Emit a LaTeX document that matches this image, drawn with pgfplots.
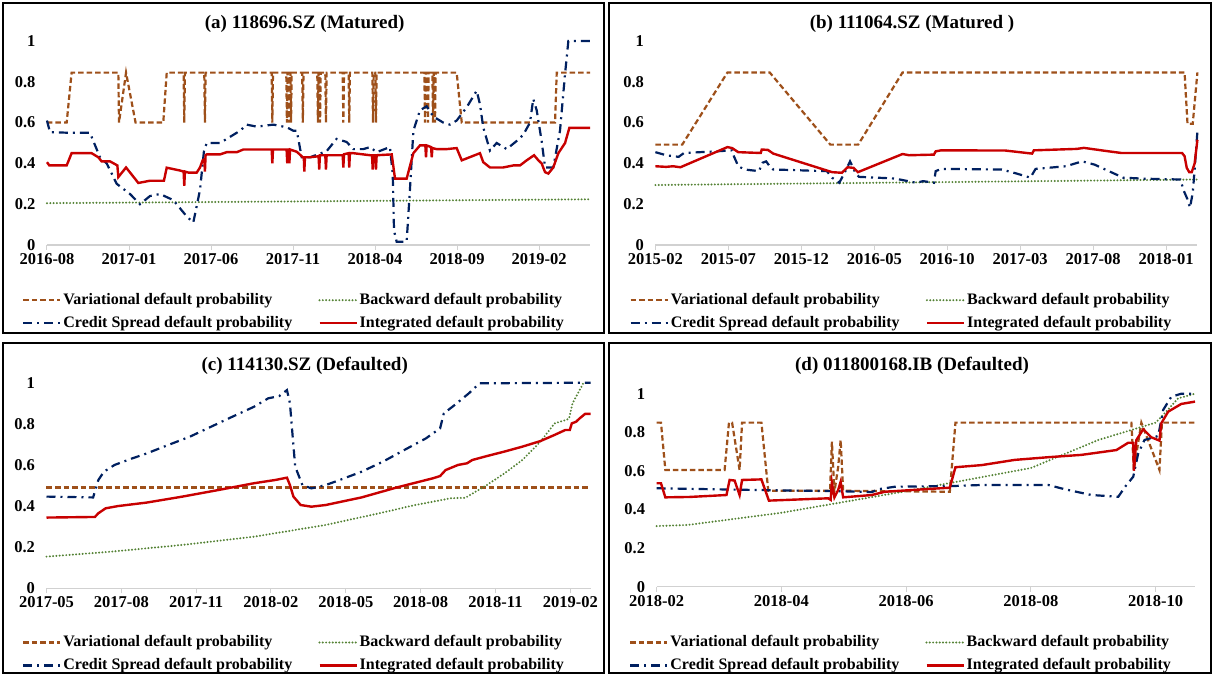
\documentclass[border=0pt]{standalone}
\usepackage{pgfplots}
\pgfplotsset{compat=1.18}
\usepackage{fontspec}
\setmainfont{Liberation Serif}
\definecolor{vbrown}{RGB}{158,80,26}
\definecolor{bgreen}{RGB}{84,130,53}
\definecolor{cblue}{RGB}{0,32,96}
\definecolor{ired}{RGB}{200,0,0}
\newcommand{\tfont}{\fontsize{19}{22}\selectfont\bfseries}
\pgfplotsset{
  panel/.style={
    scale only axis, clip=false,
    axis lines*=left,
    y axis line style={draw=none},
    x axis line style={draw=black!18, line width=1.2pt},
    xtick style={draw=black!18, line width=1pt},
    ytick style={draw=none},
    tick align=outside, major tick length=5pt,
    ymin=0, ymax=1,
    ytick={0,0.2,0.4,0.6,0.8,1},
    yticklabels={0,0.2,0.4,0.6,0.8,1},
    ticklabel style={font=\fontsize{16.5}{18}\selectfont\bfseries},
    yticklabel style={xshift=-3pt},
    legend columns=2,
    legend cell align=left,
    legend style={draw=none, fill=none, at={(axis description cs:0,0)}, anchor=north west,
      inner sep=0pt, font=\fontsize{16}{18}\selectfont\bfseries, row sep=5pt,
      nodes={inner xsep=2pt, inner ysep=1pt, text height=12pt, text depth=4pt},
      /tikz/every even column/.append style={column sep=24pt}},
    legend image code/.code={\draw[##1] (0pt,0pt) -- (37pt,0pt);},
  },
  vst/.style={vbrown, line width=2.2pt, dash pattern=on 5.5pt off 3pt},
  bst/.style={bgreen, line width=2.2pt, line cap=round, dash pattern=on 0pt off 3.3pt},
  cst/.style={cblue, line width=2.2pt, dash pattern=on 9pt off 5pt on 2pt off 5pt},
  ist/.style={ired, line width=2.4pt},
}
\begin{document}
\begin{tikzpicture}[x=1pt,y=1pt]
\useasboundingbox (0,0) rectangle (1214,676);
\draw[line width=1.6pt] (3,343) rectangle (604,673);
\draw[line width=1.6pt] (609,343) rectangle (1211,673);
\draw[line width=1.6pt] (3,3) rectangle (604,333);
\draw[line width=1.6pt] (609,3) rectangle (1211,333);
\node[font=\tfont] at (304.7,652) {(a) 118696.SZ (Matured)};
\node[font=\tfont] at (912,652) {(b) 111064.SZ (Matured )};
\node[font=\tfont] at (304.7,309.7) {(c) 114130.SZ (Defaulted)};
\node[font=\tfont] at (912,309.7) {(d) 011800168.IB (Defaulted)};

% ---------------- (a)
\begin{axis}[panel, at={(47pt,431pt)}, anchor=south west, width=543pt, height=204pt,
  xmin=0, xmax=33.11, xtick={0,5,10,15,20,25,30},
  xticklabels={2016-08,2017-01,2017-06,2017-11,2018-04,2018-09,2019-02},
  legend style={xshift=-25pt, yshift=-46pt}]
\addplot[vst] coordinates {(0,0.6) (1.2,0.6) (1.5,0.845) (4.35,0.845) (4.39,0.6) (4.82,0.845) (5.40,0.6) (7.09,0.6) (7.3,0.845)
 (8.33,0.845) (8.37,0.6) (8.41,0.845) (9.59,0.845) (9.63,0.6) (9.67,0.845) (13.70,0.845) (13.74,0.6) (13.78,0.845)
 (14.59,0.845) (14.63,0.6) (14.67,0.845) (14.72,0.845) (14.76,0.6) (14.80,0.845) (14.84,0.845) (14.88,0.6) (14.92,0.845)
 (15.56,0.845) (15.6,0.6) (15.64,0.845) (16.48,0.845) (16.52,0.6) (16.56,0.845) (16.61,0.845) (16.65,0.6) (16.69,0.845)
 (16.97,0.845) (17.01,0.6) (17.05,0.845) (18.03,0.845) (18.07,0.6) (18.11,0.845) (18.39,0.845) (18.43,0.6) (18.47,0.845)
 (19.84,0.845) (19.88,0.6) (19.92,0.845) (20.02,0.845) (20.06,0.6) (20.10,0.845) (23.01,0.845) (23.05,0.6) (23.09,0.845)
 (23.19,0.845) (23.23,0.6) (23.27,0.845) (23.50,0.845) (23.54,0.6) (23.58,0.845) (23.62,0.845) (23.66,0.6) (23.70,0.845)
 (24.98,0.845) (25.29,0.6) (30.98,0.6) (31.08,0.845) (33.11,0.845)};
\addlegendentry{Variational default probability}
\addplot[bst] coordinates {(0,0.205) (16,0.214) (33.11,0.224)};
\addlegendentry{Backward default probability}
\addplot[cst] coordinates {(0,0.61) (0.18,0.553) (1.40,0.55) (2.62,0.55) (3.23,0.43) (3.64,0.40) (4.25,0.30) (5.06,0.25) (5.67,0.20) (6.28,0.24) (6.89,0.25) (7.70,0.22) (8.52,0.14) (8.92,0.11) (9.33,0.27) (9.57,0.46) (9.74,0.50) (10.55,0.50) (11.16,0.53) (11.77,0.56) (12.18,0.59) (12.79,0.58) (13.80,0.59) (14.62,0.577) (15.02,0.56) (15.23,0.56) (15.53,0.43) (16.04,0.43) (17.05,0.46) (17.66,0.52) (18.27,0.505) (18.68,0.47) (19.29,0.47) (19.70,0.48) (20.10,0.455) (20.91,0.48) (21.08,0.35) (21.16,0.07) (21.32,0.016) (21.93,0.016) (22.13,0.27) (22.34,0.56) (22.74,0.66) (23.15,0.68) (23.55,0.63) (24.16,0.60) (24.57,0.59) (24.98,0.61) (25.59,0.675) (26.20,0.756) (26.40,0.69) (26.60,0.577) (27.01,0.463) (27.42,0.50) (28.03,0.47) (28.64,0.51) (29.04,0.54) (29.45,0.60) (29.65,0.716) (29.86,0.66) (30.16,0.51) (30.37,0.38) (30.87,0.38) (31.28,0.56) (31.59,0.84) (31.79,1.0) (33.11,1.0)};
\addlegendentry{Credit Spread default probability}
\addplot[ist] coordinates {(0,0.406) (0.14,0.39) (1.20,0.39) (1.50,0.45) (2.72,0.45) (3.13,0.43) (3.33,0.41) (3.84,0.41) (4.29,0.39) (4.35,0.333) (4.82,0.38) (5.57,0.304) (6.28,0.315) (7.13,0.315) (7.30,0.379) (8.11,0.365) (8.33,0.36) (8.37,0.29) (8.41,0.36) (8.62,0.355) (9.13,0.355) (9.33,0.38) (9.49,0.415) (9.59,0.42) (9.63,0.36) (9.67,0.44) (9.74,0.444) (10.55,0.444) (10.96,0.455) (11.57,0.455) (11.97,0.468) (13.70,0.468) (13.74,0.40) (13.78,0.468) (14.61,0.468) (14.65,0.40) (14.69,0.468) (14.74,0.468) (14.78,0.40) (14.82,0.468) (15.23,0.457) (15.60,0.43) (15.66,0.43) (15.69,0.36) (15.73,0.43) (16.04,0.43) (16.56,0.435) (16.60,0.37) (16.64,0.44) (16.97,0.44) (17.01,0.37) (17.05,0.44) (18.03,0.44) (18.07,0.38) (18.11,0.445) (18.39,0.45) (18.43,0.38) (18.47,0.45) (18.68,0.45) (19.70,0.44) (19.82,0.44) (19.86,0.37) (19.90,0.44) (20.02,0.44) (20.06,0.37) (20.10,0.44) (21.02,0.444) (21.22,0.325) (21.93,0.325) (22.34,0.45) (22.74,0.488) (23.07,0.488) (23.11,0.43) (23.15,0.488) (23.42,0.48) (23.46,0.43) (23.50,0.475) (23.76,0.47) (24.37,0.47) (24.98,0.475) (25.29,0.415) (26.40,0.45) (26.60,0.406) (27.01,0.38) (27.42,0.38) (27.82,0.38) (28.43,0.39) (28.84,0.39) (29.25,0.415) (29.70,0.44) (29.96,0.415) (30.16,0.40) (30.37,0.357) (30.57,0.35) (30.87,0.38) (31.18,0.45) (31.59,0.50) (31.85,0.574) (33.11,0.574)};
\addlegendentry{Integrated default probability}
\end{axis}

% ---------------- (b)
\begin{axis}[panel, at={(655.4pt,431pt)}, anchor=south west, width=542pt, height=204pt,
  xmin=0, xmax=37.15, xtick={0,5,10,15,20,25,30,35},
  xticklabels={2015-02,2015-07,2015-12,2016-05,2016-10,2017-03,2017-08,2018-01},
  legend style={xshift=-26pt, yshift=-46pt}]
\addplot[vst] coordinates {(0,0.492) (1.84,0.492) (4.94,0.846) (7.83,0.846) (11.99,0.492) (13.90,0.492) (16.94,0.846) (36.27,0.846) (36.47,0.594) (36.83,0.594) (37.15,0.846)};
\addlegendentry{Variational default probability}
\addplot[bst] coordinates {(0,0.294) (18,0.307) (37.15,0.321)};
\addlegendentry{Backward default probability}
\addplot[cst] coordinates {(0,0.455) (0.73,0.44) (1.59,0.432) (1.96,0.451) (4.16,0.459) (5.26,0.464) (5.38,0.435) (5.68,0.386) (6.12,0.37) (7.10,0.362) (7.34,0.403) (7.59,0.41) (7.83,0.386) (8.08,0.37) (9.54,0.367) (11.50,0.362) (11.75,0.362) (12.11,0.33) (12.60,0.305) (12.97,0.354) (13.34,0.41) (13.71,0.354) (13.95,0.334) (16.40,0.326) (17.87,0.305) (18.36,0.313) (19.09,0.305) (19.21,0.362) (19.58,0.373) (23.74,0.37) (24.72,0.351) (25.70,0.33) (26.06,0.373) (28.14,0.386) (29.25,0.41) (30.10,0.394) (31.08,0.362) (32.06,0.33) (33.53,0.325) (35.98,0.321) (36.22,0.265) (36.47,0.224) (36.64,0.183) (36.83,0.256) (36.96,0.37) (37.15,0.557)};
\addlegendentry{Credit Spread default probability}
\addplot[ist] coordinates {(0,0.386) (0.73,0.383) (1.22,0.386) (1.71,0.381) (4.94,0.48) (5.26,0.475) (5.68,0.455) (7.22,0.451) (7.29,0.468) (7.71,0.466) (8.08,0.448) (12.11,0.357) (12.78,0.354) (13.17,0.381) (13.58,0.378) (13.88,0.357) (16.94,0.446) (17.38,0.44) (19.09,0.443) (19.21,0.459) (19.58,0.464) (23.98,0.463) (25.82,0.448) (25.94,0.464) (28.88,0.471) (29.37,0.476) (31.08,0.459) (31.94,0.451) (36.10,0.451) (36.27,0.435) (36.42,0.378) (36.59,0.357) (36.76,0.357) (36.96,0.40) (37.15,0.516)};
\addlegendentry{Integrated default probability}
\end{axis}

% ---------------- (c)
\begin{axis}[panel, at={(46.5pt,87.7pt)}, anchor=south west, width=544pt, height=205.6pt,
  xmin=0, xmax=21.81, xtick={0,3,6,9,12,15,18,21},
  xticklabels={2017-05,2017-08,2017-11,2018-02,2018-05,2018-08,2018-11,2019-02},
  legend style={xshift=-24.5pt, yshift=-45pt}]
\addplot[vst] coordinates {(0,0.49) (21.81,0.49)};
\addlegendentry{Variational default probability}
\addplot[bst] coordinates {(0,0.154) (2.58,0.178) (5.45,0.211) (8.32,0.251) (11.19,0.308) (13.34,0.365) (14.78,0.405) (16.21,0.438) (16.79,0.44) (17.65,0.502) (18.36,0.559) (19.08,0.624) (19.80,0.713) (20.37,0.802) (20.80,0.818) (20.95,0.825) (21.09,0.90) (21.52,0.997)};
\addlegendentry{Backward default probability}
\addplot[cst] coordinates {(0,0.446) (1.87,0.442) (2.08,0.527) (2.30,0.567) (2.73,0.60) (3.44,0.632) (4.02,0.656) (4.88,0.697) (5.74,0.737) (6.60,0.786) (7.46,0.835) (8.32,0.883) (8.89,0.924) (9.33,0.935) (9.64,0.964) (9.76,0.90) (9.87,0.737) (9.97,0.592) (10.26,0.502) (10.62,0.486) (11.19,0.502) (11.76,0.527) (12.63,0.567) (13.49,0.616) (14.35,0.673) (15.21,0.729) (15.78,0.778) (15.93,0.851) (16.36,0.891) (16.93,0.948) (17.36,0.997) (21.81,1.0)};
\addlegendentry{Credit Spread default probability}
\addplot[ist] coordinates {(0,0.344) (1.94,0.347) (2.08,0.365) (2.37,0.389) (2.87,0.40) (4.02,0.417) (5.45,0.446) (6.89,0.478) (8.32,0.511) (9.18,0.527) (9.64,0.538) (9.76,0.502) (9.90,0.446) (10.19,0.405) (10.62,0.397) (11.19,0.405) (12.63,0.442) (14.06,0.491) (15.49,0.535) (15.78,0.546) (16.00,0.575) (16.50,0.60) (16.86,0.608) (17.07,0.624) (17.65,0.643) (18.36,0.665) (19.08,0.689) (19.80,0.716) (20.37,0.746) (20.80,0.77) (20.98,0.77) (21.06,0.802) (21.23,0.81) (21.38,0.827) (21.59,0.848) (21.81,0.848)};
\addlegendentry{Integrated default probability}
\end{axis}

% ---------------- (d)
\begin{axis}[panel, at={(656.6pt,89.3pt)}, anchor=south west, width=538.4pt, height=193pt,
  xmin=0, xmax=8.63, xtick={0,2,4,6,8},
  xticklabels={2018-02,2018-04,2018-06,2018-08,2018-10},
  legend style={xshift=-27.6pt, yshift=-46.6pt}]
\addplot[vst] coordinates {(0,0.85) (0.07,0.85) (0.14,0.605) (1.09,0.605) (1.16,0.85) (1.21,0.85) (1.33,0.605) (1.37,0.85) (1.68,0.85) (1.79,0.497) (2.78,0.497) (2.81,0.751) (2.85,0.49) (2.91,0.62) (2.95,0.76) (2.99,0.497) (4.70,0.492) (4.79,0.85) (7.61,0.85) (7.65,0.605) (7.77,0.85) (8.06,0.605) (8.10,0.85) (8.63,0.85)};
\addlegendentry{Variational default probability}
\addplot[bst] coordinates {(0,0.314) (0.5,0.32) (2,0.383) (4,0.495) (6,0.615) (7.08,0.76) (7.61,0.812) (8.0,0.85) (8.09,0.88) (8.36,0.976) (8.63,1.0)};
\addlegendentry{Backward default probability}
\addplot[cst] coordinates {(0,0.51) (1.42,0.502) (3.02,0.494) (3.45,0.49) (3.55,0.505) (3.82,0.518) (4.30,0.52) (4.70,0.521) (5.21,0.527) (6.28,0.527) (6.54,0.505) (6.97,0.475) (7.40,0.466) (7.51,0.518) (7.64,0.57) (7.72,0.691) (7.82,0.76) (8.04,0.781) (8.12,0.916) (8.25,0.984) (8.41,1.0) (8.63,1.0)};
\addlegendentry{Credit Spread default probability}
\addplot[ist] coordinates {(0,0.536) (0.07,0.536) (0.14,0.463) (0.53,0.465) (1.12,0.475) (1.17,0.553) (1.25,0.55) (1.33,0.475) (1.37,0.553) (1.68,0.556) (1.80,0.446) (2.75,0.458) (2.79,0.45) (2.81,0.539) (2.85,0.463) (2.91,0.501) (2.95,0.544) (2.99,0.463) (3.45,0.475) (3.66,0.492) (4.30,0.505) (4.70,0.513) (4.79,0.619) (5.21,0.63) (5.74,0.657) (6.28,0.671) (6.81,0.683) (7.37,0.708) (7.56,0.746) (7.64,0.746) (7.65,0.601) (7.69,0.76) (7.80,0.816) (7.93,0.774) (8.06,0.757) (8.09,0.847) (8.20,0.907) (8.41,0.947) (8.63,0.959)};
\addlegendentry{Integrated default probability}
\end{axis}
\end{tikzpicture}
\end{document}
